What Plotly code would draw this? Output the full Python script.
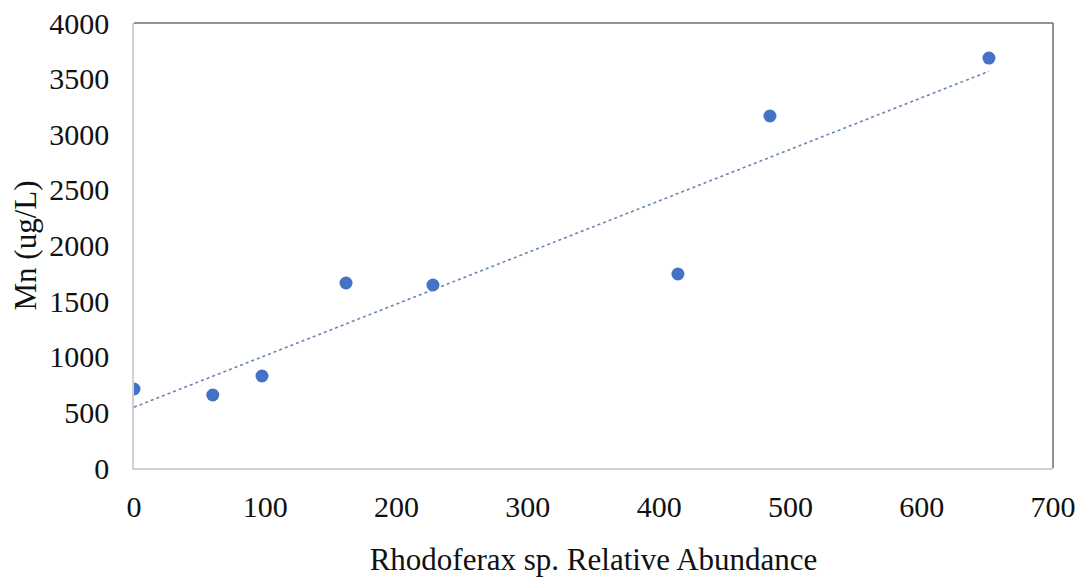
import numpy as np
import plotly.graph_objects as go

abundance = [0, 60, 97.5, 161.5, 227.7, 414.3, 484.4, 651.2]
mn = [710, 656, 827, 1663, 1645, 1744, 3164, 3685]
x_ticks = [0, 100, 200, 300, 400, 500, 600, 700]
y_ticks = [0, 500, 1000, 1500, 2000, 2500, 3000, 3500, 4000]

slope, intercept = np.polyfit(abundance, mn, 1)
trend_x = [min(abundance), max(abundance)]
trend_y = [intercept + slope * v for v in trend_x]

font_family = "Liberation Serif, Times New Roman, serif"

fig = go.Figure()
fig.add_trace(go.Scatter(x=trend_x, y=trend_y, mode="lines",
                         line=dict(color="#6a86b0", width=1.6, dash="dot"),
                         hoverinfo="skip", showlegend=False))
fig.add_trace(go.Scatter(x=abundance, y=mn, mode="markers",
                         marker=dict(color="#4472C4", size=13),
                         showlegend=False))

fig.update_layout(
    width=1075, height=569,
    margin=dict(l=126, r=30, t=15, b=109),
    paper_bgcolor="white", plot_bgcolor="white",
    font=dict(family=font_family, size=26, color="#111111"),
    xaxis=dict(range=[0, 700], tickvals=x_ticks, showgrid=False, zeroline=False,
               showline=True, linecolor="#d0d0d0", linewidth=1.5,
               ticks="", ticklabelstandoff=11, automargin=False,
               ticklabeloverflow="allow",
               tickfont=dict(family=font_family, size=30, color="#111111"),
               title=dict(text="Rhodoferax sp. Relative Abundance", standoff=28)),
    yaxis=dict(range=[0, 4000], tickvals=y_ticks, showgrid=False, zeroline=False,
               showline=True, linecolor="#d0d0d0", linewidth=1.5,
               ticks="", ticklabelstandoff=17, automargin=False,
               ticklabeloverflow="allow",
               tickfont=dict(family=font_family, size=30, color="#111111"),
               title=dict(text="Mn (ug/L)", standoff=19)),
    shapes=[
        dict(type="line", xref="x domain", yref="y domain", x0=0, x1=1, y0=1, y1=1,
             line=dict(color="#6e6e6e", width=1.5)),
        dict(type="line", xref="x domain", yref="y domain", x0=1, x1=1, y0=0, y1=1,
             line=dict(color="#6e6e6e", width=1.5)),
    ],
)

fig.write_html("out.html")
